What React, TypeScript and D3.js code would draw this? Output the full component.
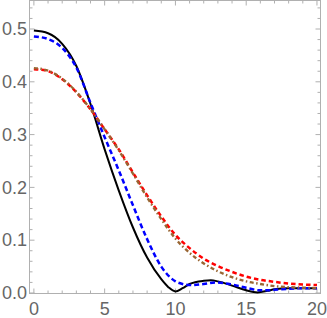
import React from 'react';
import * as d3 from 'd3';

// readings
const blackX = [0, 1, 2, 3, 4, 5, 6, 7, 8, 9, 9.5, 10, 10.5, 11, 12, 12.5, 13, 14, 15, 15.8, 16.5, 17, 18, 19, 20];
const blackY = [0.497, 0.492, 0.472, 0.43, 0.358, 0.272, 0.194, 0.124, 0.067, 0.026, 0.011, 0.003, 0.009, 0.017, 0.023, 0.024, 0.022, 0.014, 0.005, 0.001, 0.004, 0.007, 0.009, 0.009, 0.009];

const blueX = [0, 1, 2, 3, 4, 5, 6, 7, 8, 9, 10, 10.5, 11, 12, 12.8, 14, 15, 16, 16.5, 17, 18, 19, 20];
const blueY = [0.486, 0.481, 0.464, 0.427, 0.36, 0.295, 0.232, 0.166, 0.102, 0.05, 0.022, 0.017, 0.015, 0.017, 0.02, 0.016, 0.01, 0.005, 0.005, 0.006, 0.008, 0.009, 0.009];

const redX = [0, 1, 2, 3, 4, 5, 6, 7, 8, 9, 10, 11, 12, 13, 14, 15, 16, 17, 18, 19, 20];
const redY = [0.424, 0.42, 0.405, 0.38, 0.348, 0.31, 0.272, 0.228, 0.185, 0.145, 0.11, 0.085, 0.065, 0.051, 0.04, 0.031, 0.025, 0.021, 0.018, 0.016, 0.015];

const brownX = [0, 1, 2, 3, 4, 5, 6, 7, 8, 9, 10, 11, 12, 13, 14, 15, 16, 17, 18, 19, 20];
const brownY = [0.426, 0.421, 0.406, 0.381, 0.348, 0.31, 0.27, 0.226, 0.181, 0.14, 0.103, 0.076, 0.056, 0.041, 0.03, 0.022, 0.017, 0.013, 0.011, 0.01, 0.009];

const xTicks = [0, 5, 10, 15, 20];
const yTicks = [0, 0.1, 0.2, 0.3, 0.4, 0.5];

const W = 327;
const H = 318;

const App = () => {
  const left = 29.5, right = 320.5, top = 0.5, bottom = 293.5;
  const x = d3.scaleLinear().domain([-0.31, 20.25]).range([left, right]);
  const y = d3.scaleLinear().domain([-0.001, 0.554]).range([bottom, top]);

  const line = d3.line<[number, number]>()
    .x(d => x(d[0]))
    .y(d => y(d[1]))
    .curve(d3.curveMonotoneX);

  const series = [
    { xs: blackX, ys: blackY, color: '#000000', dash: undefined, w: 2 },
    { xs: blueX, ys: blueY, color: '#0000ff', dash: '5,3', w: 2.5 },
    { xs: redX, ys: redY, color: '#ff0000', dash: '4.5,3', w: 2.5 },
    { xs: brownX, ys: brownY, color: '#996633', dash: '4,2.5,1.5,2.5', w: 2.4 },
  ];

  const xMinor = d3.range(0, 21, 1).filter(v => v % 5 !== 0);
  const yMinor = d3.range(0, 0.56, 0.02).filter(v => Math.abs(v * 10 - Math.round(v * 10)) > 1e-6);

  const frame = '#b0b0b0';
  const labelColor = '#666666';

  return (
    <svg width={W} height={H} style={{ position: 'absolute', left: 0, top: 0 }}>
      <rect x={left} y={top} width={right - left} height={bottom - top} fill="none" stroke={frame} strokeWidth={1} />
      {/* ticks, all four sides */}
      {xTicks.map(t => (
        <g key={'xt' + t}>
          <line x1={x(t)} x2={x(t)} y1={bottom} y2={bottom - 5} stroke={frame} />
          <line x1={x(t)} x2={x(t)} y1={top} y2={top + 5} stroke={frame} />
          <text x={x(t)} y={315} textAnchor="middle" fontFamily="Liberation Sans, Arial, sans-serif" fontSize={18} fill={labelColor}>{t}</text>
        </g>
      ))}
      {xMinor.map(t => (
        <g key={'xm' + t}>
          <line x1={x(t)} x2={x(t)} y1={bottom} y2={bottom - 3} stroke={frame} />
          <line x1={x(t)} x2={x(t)} y1={top} y2={top + 3} stroke={frame} />
        </g>
      ))}
      {yTicks.map(t => (
        <g key={'yt' + t}>
          <line x1={left} x2={left + 5} y1={y(t)} y2={y(t)} stroke={frame} />
          <line x1={right} x2={right - 5} y1={y(t)} y2={y(t)} stroke={frame} />
          <text x={27} y={y(t)} dy="0.35em" textAnchor="end" fontFamily="Liberation Sans, Arial, sans-serif" fontSize={18} fill={labelColor}>{t.toFixed(1)}</text>
        </g>
      ))}
      {yMinor.map(t => (
        <g key={'ym' + t}>
          <line x1={left} x2={left + 3} y1={y(t)} y2={y(t)} stroke={frame} />
          <line x1={right} x2={right - 3} y1={y(t)} y2={y(t)} stroke={frame} />
        </g>
      ))}
      {series.map((s, i) => (
        <path
          key={i}
          d={line(s.xs.map((v, j) => [v, s.ys[j]] as [number, number])) || ''}
          fill="none"
          stroke={s.color}
          strokeWidth={s.w}
          strokeDasharray={s.dash}
        />
      ))}
    </svg>
  );
};

export default App;
